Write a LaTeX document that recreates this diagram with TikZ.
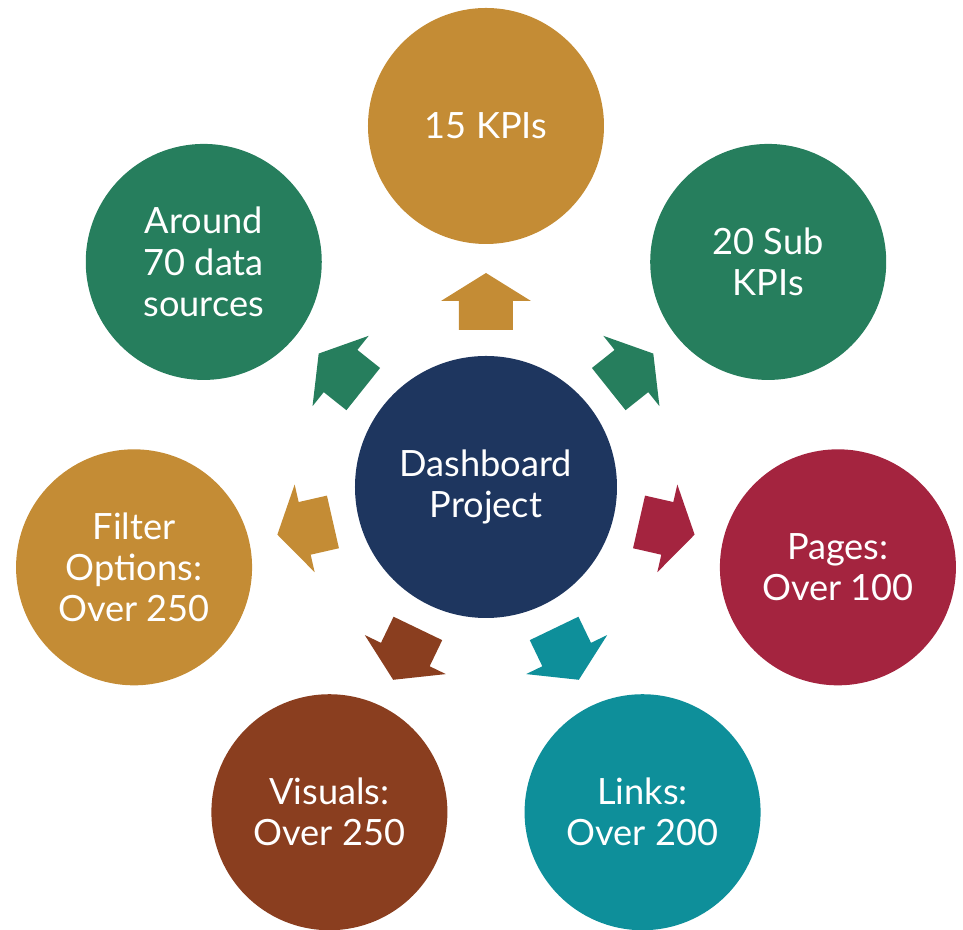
\documentclass[tikz,border=0pt]{standalone}
\usepackage{fontspec}
\setmainfont{Lato}

\definecolor{goldKpi}{HTML}{C48C35}
\definecolor{greenKpi}{HTML}{267E5D}
\definecolor{redKpi}{HTML}{A4243F}
\definecolor{tealKpi}{HTML}{0E8F9A}
\definecolor{brownKpi}{HTML}{8A3E1F}
\definecolor{navyKpi}{HTML}{1E365F}

\begin{document}
\begin{tikzpicture}[
		bubble/.style={circle,minimum size=2.36cm,inner sep=0pt,align=center,text=white,
			font=\fontsize{10.3}{11.7}\selectfont},
		hub/.style={bubble,minimum size=2.62cm}
	]
		\newcommand*{\ringDist}{3.61}
		\newcommand*{\blockArrow}[2]{%
			\fill[#2,rotate=#1] (1.57,-0.27) -- (1.86,-0.27) -- (1.86,-0.45) -- (2.14,0)
				-- (1.86,0.45) -- (1.86,0.27) -- (1.57,0.27) -- cycle;}

		\useasboundingbox (-4.86,-4.43) rectangle (4.77,4.87);

		\coordinate(C) at	(0,0);
		\coordinate(K) at	(90:\ringDist);
		\coordinate(S) at	(38.57:\ringDist);
		\coordinate(P) at	(-12.86:\ringDist);
		\coordinate(L) at	(-64.29:\ringDist);
		\coordinate(V) at	(-115.71:\ringDist);
		\coordinate(F) at	(-167.14:\ringDist);
		\coordinate(D) at	(141.43:\ringDist);

		\node[hub,fill=navyKpi] (project) at (C) {Dashboard\\Project};

		\node[bubble,fill=goldKpi] (kpis) at (K) {15 KPIs};
		\node[bubble,fill=greenKpi] (subkpis) at (S) {20 Sub\\KPIs};
		\node[bubble,fill=redKpi] (pages) at (P) {Pages:\\Over 100};
		\node[bubble,fill=tealKpi] (links) at (L) {Links:\\Over 200};
		\node[bubble,fill=brownKpi] (visuals) at (V) {Visuals:\\Over 250};
		\node[bubble,fill=goldKpi] (filters) at (F) {Filter\\Options:\\Over 250};
		\node[bubble,fill=greenKpi] (sources) at (D) {Around\\70 data\\sources};

		\blockArrow{90}{goldKpi}
		\blockArrow{38.57}{greenKpi}
		\blockArrow{-12.86}{redKpi}
		\blockArrow{-64.29}{tealKpi}
		\blockArrow{-115.71}{brownKpi}
		\blockArrow{-167.14}{goldKpi}
		\blockArrow{141.43}{greenKpi}
\end{tikzpicture}
\end{document}
